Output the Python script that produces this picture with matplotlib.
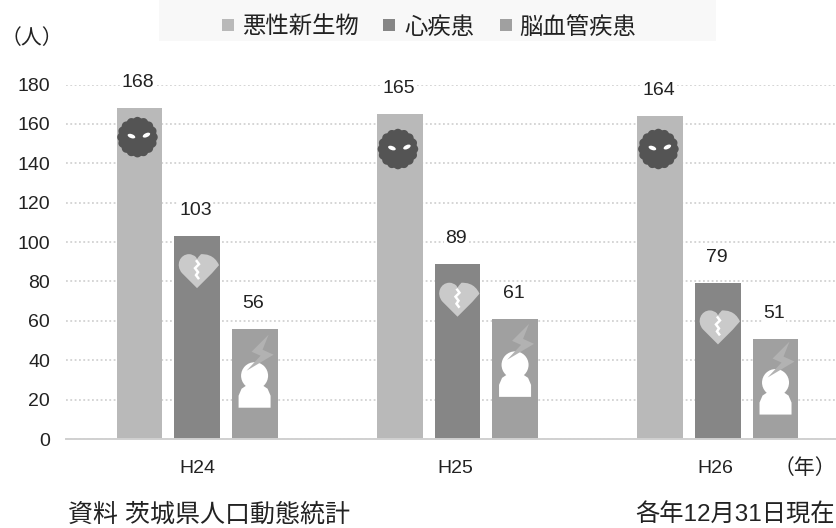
import numpy as np
import matplotlib
matplotlib.use('Agg')
import matplotlib.pyplot as plt
from matplotlib.patches import Rectangle, Polygon, Circle, Ellipse, PathPatch
from matplotlib.path import Path
from matplotlib.transforms import Affine2D, ScaledTranslation

plt.rcParams['font.family'] = ['Liberation Sans', 'Noto Sans CJK JP']

years = ['H24', 'H25', 'H26']
cancer = [168, 165, 164]
heart = [103, 89, 79]
stroke = [56, 61, 51]
series_names = ['悪性新生物', '心疾患', '脳血管疾患']
yticks = list(range(0, 181, 20))

W, H = 837, 528
fig = plt.figure(figsize=(W / 100, H / 100), dpi=100)
# axes box in pixels: x 66-837, y 0 at 439 and 180 at 84.5
ax = fig.add_axes([66 / W, (H - 439) / H, (837 - 66) / W, (439 - 84.5) / H])

x = np.arange(3)
width = 0.176
step = 0.221
colors = ['#b9b9b9', '#868686', '#a0a0a0']
text_color = '#222222'
b1 = ax.bar(x - step, cancer, width, color=colors[0], zorder=2)
b2 = ax.bar(x, heart, width, color=colors[1], zorder=2)
b3 = ax.bar(x + step, stroke, width, color=colors[2], zorder=2)

ax.set_xlim(-0.503, 2.457)
ax.set_ylim(0, 180)
ax.set_yticks(yticks)
ax.set_xticks(x + np.array([0, -0.007, -0.012]))
ax.set_xticklabels(years, fontsize=14, color=text_color)
ax.tick_params(axis='both', length=0)
ax.tick_params(axis='y', labelsize=14, labelcolor=text_color, pad=11.5)
ax.tick_params(axis='x', pad=15)
ax.grid(axis='y', color='#d2d2d2', linestyle=(0, (1, 1.4)), linewidth=1.3, zorder=0)
for s in ['top', 'right', 'left']:
    ax.spines[s].set_visible(False)
ax.spines['bottom'].set_color('#d0d0d0')
ax.spines['bottom'].set_linewidth(1.4)
ax.spines['bottom'].set_zorder(3)

# value labels with a white patch, the grid breaks around them
for bars, vals in zip([b1, b2, b3], [cancer, heart, stroke]):
    for r, v in zip(bars, vals):
        ax.annotate(str(v), (r.get_x() + r.get_width() / 2, v), xytext=(-1, 25.5 * 0.72),
                    textcoords='offset points', ha='center', va='center',
                    fontsize=14, color=text_color, zorder=4,
                    bbox=dict(facecolor='white', edgecolor='none', pad=1))


def place(px, py_below, bar):
    # icon transform: pixel offsets from the top centre of a bar
    cx = bar.get_x() + bar.get_width() / 2
    return Affine2D().translate(px, -py_below) + ScaledTranslation(cx, bar.get_height(), ax.transData)


def draw_germ(bar, below):
    tr = place(-2, below, bar)
    t = np.linspace(0, 2 * np.pi, 181)
    r = 19 + 1.3 * np.abs(np.cos(8 * t))
    ax.add_patch(Polygon(np.c_[r * np.cos(t), r * np.sin(t)], closed=True, fc='#545454', ec='none', transform=tr, zorder=5))
    for sx, sy, ang in [(-6, 1, -20), (9, 2, 25)]:
        ax.add_patch(Ellipse((sx, sy), 8, 4, angle=ang, fc='white', ec='none', transform=tr, zorder=6))


def draw_heart(bar, below):
    tr = place(0, below, bar)
    verts = [(0, -17), (-15, -2), (-22, 6), (-17, 17), (-8, 17), (-4, 17), (-1, 14), (0, 12),
             (1, 14), (4, 17), (8, 17), (17, 17), (22, 6), (15, -2), (0, -17)]
    codes = [Path.MOVETO, Path.LINETO, Path.CURVE4, Path.CURVE4, Path.CURVE4, Path.CURVE3, Path.CURVE3, Path.LINETO,
             Path.CURVE3, Path.CURVE3, Path.CURVE4, Path.CURVE4, Path.CURVE4, Path.LINETO, Path.CLOSEPOLY]
    ax.add_patch(PathPatch(Path(verts, codes), fc='#cacaca', ec='none', transform=tr, zorder=5))
    crack = [(-1, 11), (2, 7), (-2, 3), (1, -1), (-1, -4), (2, -8)]
    ax.add_patch(Polygon(crack, closed=False, fill=False, ec='white', lw=1.8, transform=tr, zorder=6))


def draw_person(bar, below):
    # below = distance from bar top to bottom of the figure
    tr = place(0, below, bar)
    body = [(-16, 0), (16, 0), (16, 12), (13, 19), (7, 23), (-7, 23), (-13, 19), (-16, 12)]
    ax.add_patch(Polygon(body, closed=True, fc='white', ec='none', transform=tr, zorder=5))
    ax.add_patch(Circle((0, 32), 13.5, fc='white', ec='none', transform=tr, zorder=5))
    bolt = [(14, 73), (-3, 56), (6, 52), (-8, 37), (19, 53), (8, 58)]
    ax.add_patch(Polygon(bolt, closed=True, fc='#b2b2b2', ec='none', transform=tr, zorder=6))


germ_below = [29, 35, 33]
heart_below = [35, 36, 44]
person_below = [79, 78, 76]
for j in range(3):
    draw_germ(b1[j], germ_below[j])
    draw_heart(b2[j], heart_below[j])
    draw_person(b3[j], person_below[j])

# legend band at the top
fig.patches.append(Rectangle((159 / W, (H - 41) / H), (716 - 159) / W, 41 / H, transform=fig.transFigure,
                             fc='#f8f8f8', ec='none', zorder=0))
sq_x = [222, 383, 500]
tx_x = [242, 404, 519]
for name, c, sx, tx in zip(series_names, colors, sq_x, tx_x):
    fig.patches.append(Rectangle((sx / W, (H - 31) / H), 12 / W, 12 / H, transform=fig.transFigure, fc=c, ec='none', zorder=1))
    fig.text(tx / W, (H - 27) / H, name, fontsize=16.8, color=text_color, va='center', ha='left')

fig.text(1 / W, (H - 38) / H, '（人）', fontsize=15, color=text_color, va='center', ha='left')
fig.text(836 / W, (H - 468) / H, '（年）', fontsize=15, color=text_color, va='center', ha='right')
fig.text(68 / W, (H - 515) / H, '資料 茨城県人口動態統計', fontsize=18, color=text_color, va='center', ha='left')
fig.text(835 / W, (H - 515) / H, '各年12月31日現在', fontsize=17.5, color=text_color, va='center', ha='right')

fig.savefig('out.png', dpi=100)
